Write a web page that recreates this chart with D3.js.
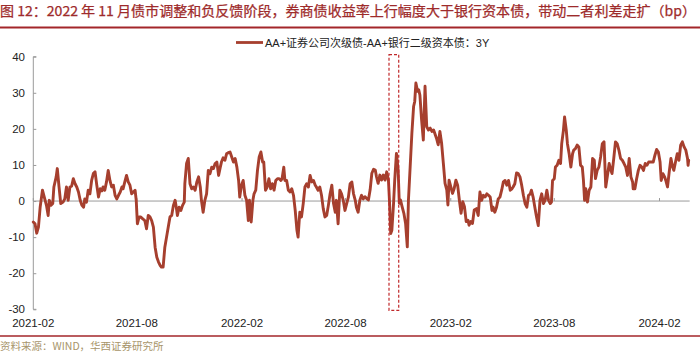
<!DOCTYPE html>
<html><head><meta charset="utf-8">
<script src="https://cdn.jsdelivr.net/npm/d3@7"></script>
<style>html,body{margin:0;padding:0;background:#fff;}svg{display:block;}</style>
</head><body>
<svg id="c" width="700" height="357"></svg>
<script>
const titleText = "图 12：2022 年 11 月债市调整和负反馈阶段，券商债收益率上行幅度大于银行资本债，带动二者利差走扩（bp）";
const legendLabel = "AA+证券公司次级债-AA+银行二级资本债：3Y";
const sourceText = "资料来源：WIND，华西证券研究所";
const yTicks = [40, 30, 20, 10, 0, -10, -20, -30];
const xTickLabels = ["2021-02","2021-08","2022-02","2022-08","2023-02","2023-08","2024-02"];
const highlightDates = ["2022-10-16","2022-11-02"];
const highlightValues = [40.6, -30.3];

const dates = [
"2021-02-01","2021-02-04","2021-02-07","2021-02-10","2021-02-13","2021-02-17","2021-02-21","2021-02-24","2021-02-27",
"2021-03-01","2021-03-04","2021-03-07","2021-03-09","2021-03-13","2021-03-15","2021-03-18","2021-03-21","2021-03-25","2021-03-28","2021-03-31",
"2021-04-03","2021-04-06","2021-04-09","2021-04-12","2021-04-15","2021-04-18","2021-04-21","2021-04-24","2021-04-27","2021-04-30",
"2021-05-02","2021-05-05","2021-05-08","2021-05-11","2021-05-14","2021-05-17","2021-05-20","2021-05-23","2021-05-26","2021-05-29",
"2021-06-01","2021-06-03","2021-06-06","2021-06-09","2021-06-12","2021-06-15","2021-06-18","2021-06-21","2021-06-24","2021-06-27","2021-06-30",
"2021-07-03","2021-07-06","2021-07-08","2021-07-11","2021-07-14","2021-07-17","2021-07-20","2021-07-23","2021-07-26","2021-07-29","2021-07-31",
"2021-08-02","2021-08-05","2021-08-08","2021-08-11","2021-08-15","2021-08-18","2021-08-21","2021-08-24","2021-08-27","2021-08-30",
"2021-09-02","2021-09-05","2021-09-08","2021-09-11","2021-09-13","2021-09-16","2021-09-19","2021-09-22","2021-09-25","2021-09-28",
"2021-10-01","2021-10-04","2021-10-07","2021-10-09","2021-10-11","2021-10-14","2021-10-17","2021-10-20","2021-10-23","2021-10-24","2021-10-27","2021-10-30",
"2021-11-02","2021-11-05","2021-11-08","2021-11-11","2021-11-14","2021-11-17","2021-11-20","2021-11-22","2021-11-25","2021-11-28",
"2021-12-01","2021-12-04","2021-12-07","2021-12-10","2021-12-13","2021-12-16","2021-12-19","2021-12-22","2021-12-25","2021-12-27","2021-12-30",
"2022-01-02","2022-01-05","2022-01-08","2022-01-11","2022-01-14","2022-01-17","2022-01-20","2022-01-23","2022-01-26","2022-01-28","2022-01-31",
"2022-02-03","2022-02-06","2022-02-09","2022-02-12","2022-02-14","2022-02-17","2022-02-20","2022-02-22","2022-02-25","2022-02-28",
"2022-03-03","2022-03-06","2022-03-09","2022-03-11","2022-03-14","2022-03-17","2022-03-20","2022-03-23","2022-03-26","2022-03-29",
"2022-04-01","2022-04-04","2022-04-07","2022-04-10","2022-04-12","2022-04-15","2022-04-17","2022-04-20","2022-04-23","2022-04-26","2022-04-29",
"2022-05-02","2022-05-05","2022-05-08","2022-05-10","2022-05-13","2022-05-16","2022-05-19","2022-05-22","2022-05-25","2022-05-28","2022-05-31",
"2022-06-03","2022-06-06","2022-06-09","2022-06-11","2022-06-14","2022-06-17","2022-06-20","2022-06-23","2022-06-26","2022-06-29",
"2022-07-02","2022-07-05","2022-07-08","2022-07-11","2022-07-14","2022-07-16","2022-07-19","2022-07-22","2022-07-25","2022-07-28","2022-07-31",
"2022-08-03","2022-08-06","2022-08-09","2022-08-12","2022-08-15","2022-08-18","2022-08-20","2022-08-23","2022-08-26","2022-08-29",
"2022-09-01","2022-09-04","2022-09-07","2022-09-10","2022-09-13","2022-09-16","2022-09-19","2022-09-22","2022-09-24","2022-09-27","2022-09-30",
"2022-10-03","2022-10-06","2022-10-09","2022-10-12","2022-10-15","2022-10-17","2022-10-19","2022-10-21","2022-10-24","2022-10-26","2022-10-29",
"2022-11-01","2022-11-03","2022-11-05","2022-11-08","2022-11-11","2022-11-14","2022-11-17","2022-11-19","2022-11-22","2022-11-25","2022-11-28","2022-11-30",
"2022-12-02","2022-12-05","2022-12-07","2022-12-09","2022-12-12","2022-12-15","2022-12-18","2022-12-21","2022-12-24","2022-12-27","2022-12-30",
"2023-01-02","2023-01-04","2023-01-07","2023-01-10","2023-01-13","2023-01-16","2023-01-19","2023-01-22","2023-01-25","2023-01-27","2023-01-29",
"2023-02-01","2023-02-04","2023-02-07","2023-02-10","2023-02-13","2023-02-16","2023-02-19","2023-02-22","2023-02-25","2023-02-28",
"2023-03-03","2023-03-05","2023-03-08","2023-03-11","2023-03-14","2023-03-18","2023-03-21","2023-03-24","2023-03-27","2023-03-30",
"2023-04-02","2023-04-05","2023-04-08","2023-04-11","2023-04-14","2023-04-16","2023-04-19","2023-04-22","2023-04-25","2023-04-28",
"2023-05-01","2023-05-04","2023-05-07","2023-05-10","2023-05-13","2023-05-16","2023-05-19","2023-05-21","2023-05-24","2023-05-27","2023-05-30",
"2023-06-02","2023-06-05","2023-06-08","2023-06-11","2023-06-14","2023-06-17","2023-06-20","2023-06-22","2023-06-25","2023-06-28",
"2023-07-01","2023-07-04","2023-07-07","2023-07-10","2023-07-13","2023-07-16","2023-07-19","2023-07-22","2023-07-25","2023-07-27","2023-07-29",
"2023-08-01","2023-08-03","2023-08-06","2023-08-09","2023-08-12","2023-08-14","2023-08-17","2023-08-19","2023-08-22","2023-08-24","2023-08-27","2023-08-30",
"2023-09-02","2023-09-04","2023-09-07","2023-09-10","2023-09-13","2023-09-16","2023-09-19","2023-09-21","2023-09-23","2023-09-25","2023-09-28",
"2023-10-01","2023-10-04","2023-10-07","2023-10-10","2023-10-12","2023-10-15","2023-10-18","2023-10-21","2023-10-24","2023-10-27","2023-10-30",
"2023-11-02","2023-11-05","2023-11-08","2023-11-10","2023-11-13","2023-11-16","2023-11-19","2023-11-22","2023-11-25","2023-11-28",
"2023-12-01","2023-12-04","2023-12-07","2023-12-10","2023-12-13","2023-12-16","2023-12-17","2023-12-20","2023-12-23","2023-12-26","2023-12-29",
"2024-01-01","2024-01-04","2024-01-07","2024-01-10","2024-01-13","2024-01-15","2024-01-18","2024-01-21","2024-01-24","2024-01-27","2024-01-30",
"2024-02-02","2024-02-04","2024-02-07","2024-02-10","2024-02-12","2024-02-15","2024-02-18","2024-02-21","2024-02-24","2024-02-26","2024-02-29",
"2024-03-03","2024-03-06","2024-03-09","2024-03-12","2024-03-15","2024-03-18","2024-03-21","2024-03-22","2024-03-23"
];

const values = [
-5.8,-6.3,-8.9,-7.2,-1.7,3.0,0.6,-1.2,-4.0,
0.2,-1.2,-0.7,3.9,6.7,9.0,3.9,-0.7,-0.3,0.6,3.9,
0.2,3.9,4.1,6.2,4.8,3.9,2.5,0.2,-1.2,-1.7,
0.6,-0.3,3.0,2.0,5.7,7.6,8.1,4.4,1.1,3.4,
2.8,3.9,3.0,5.3,8.5,5.7,3.9,4.4,1.6,0.6,1.6,
2.5,3.9,3.4,5.3,7.1,5.3,4.4,2.0,2.5,3.0,0.2,
-6.3,-4.4,-4.4,-4.9,-5.4,-7.7,-4.0,-4.4,-5.4,-7.2,
-12.8,-15.6,-16.9,-17.9,-18.3,-18.3,-12.8,-10.0,-7.2,-4.4,
-4.0,-1.2,0.2,-1.7,-4.0,-1.7,-2.6,-1.2,-0.3,4.8,10.4,11.8,
4.8,3.4,3.9,3.0,5.3,6.7,3.9,0.2,-3.1,0.2,
2.0,8.5,7.6,9.4,9.0,10.4,10.8,7.1,9.4,10.8,12.0,
11.3,13.1,13.4,13.6,12.2,10.8,11.8,9.4,5.7,1.1,4.4,
5.7,1.6,0.2,-5.4,0.2,-5.8,0.2,2.0,3.0,8.5,
12.2,13.6,10.8,10.8,3.0,3.9,6.2,3.4,4.8,3.0,
5.7,6.2,6.2,5.7,6.2,9.4,5.7,5.7,3.0,2.5,3.4,
1.6,-2.6,-8.1,-10.0,-3.1,-4.4,-0.7,3.9,4.8,3.9,7.1,
5.3,5.7,4.4,3.9,3.0,3.9,1.6,-2.1,-4.4,-4.0,
-1.2,2.0,4.4,-0.7,-3.1,0.2,-6.3,3.0,2.0,0.2,-2.6,
-0.7,1.1,4.8,5.3,2.0,0.2,-1.7,-3.1,0.2,1.6,
0.6,1.2,0.7,0.3,3.1,7.7,8.8,8.6,6.8,4.9,7.2,
5.8,7.2,5.8,8.1,5.8,-0.6,-9.0,-8.1,-0.6,5.8,13.2,
8.6,-0.6,0.3,-1.6,-3.4,-6.2,-12.7,0.3,9.5,18.8,26.2,27.6,
32.7,30.4,30.8,29.4,22.5,16.9,31.8,20.6,19.7,20.2,19.3,
19.7,18.8,17.4,15.6,19.3,16.0,10.5,4.9,3.1,-1.1,5.8,
4.0,2.1,3.5,5.8,4.4,0.3,-3.4,-0.2,-1.6,-5.7,
-5.3,-6.7,-5.7,-6.2,-2.5,-2.1,-4.0,2.5,0.2,1.6,
1.1,2.0,1.6,1.1,-2.6,-1.7,-3.1,-1.7,0.6,1.1,
3.0,5.3,5.7,4.4,5.7,3.0,3.4,3.9,4.8,7.8,7.6,
6.7,4.4,1.6,-0.7,-1.7,1.6,2.0,3.0,1.1,-1.7,
-4.4,-6.8,0.2,2.0,-0.7,0.2,3.0,0.2,-0.7,-0.3,5.7,
6.2,9.4,9.9,11.3,10.4,15.9,19.6,23.3,19.6,15.9,13.1,9.4,
13.1,14.1,14.5,15.5,15.0,9.9,9.4,5.7,0.2,3.4,-0.3,
3.0,3.9,11.8,11.3,6.2,8.5,9.4,12.2,15.9,16.4,3.9,
7.1,10.4,8.5,7.6,11.8,16.4,15.9,14.1,11.8,11.3,
10.4,9.4,7.1,11.8,6.7,5.3,3.4,3.4,6.2,8.5,9.9,
9.4,8.5,10.4,9.9,10.8,10.8,10.8,10.8,12.7,14.3,13.6,
10.8,5.7,7.6,6.7,5.7,3.9,8.1,11.8,9.4,8.5,10.8,
13.1,11.3,15.5,16.4,15.0,14.1,11.8,9.9,11.3
];

const parse = d3.utcParse("%Y-%m-%d");
const parseM = d3.utcParse("%Y-%m");
const n = Math.min(dates.length, values.length);
if (dates.length !== values.length) console.warn("length mismatch", dates.length, values.length);
const data = d3.range(n).map(i => ({d: parse(dates[i]), v: values[i]}));

const svg = d3.select("#c");
const red = "#A63F2E";

const x = d3.scaleUtc().domain([parseM("2021-02"), parseM("2024-02")]).range([33.3, 659.5]);
const y = d3.scaleLinear().domain([-30, 40]).range([309.3, 56.7]);

// title
svg.append("text").attr("x", 0).attr("y", 16)
  .attr("font-family", "'Noto Sans CJK SC', sans-serif").attr("font-size", 13.5)
  .attr("fill", "#9E2B2B").attr("stroke", "#9E2B2B").attr("stroke-width", 0.25)
  .attr("textLength", 696).attr("lengthAdjust", "spacingAndGlyphs")
  .text(titleText);
svg.append("line").attr("x1", 0).attr("x2", 700).attr("y1", 27.5).attr("y2", 27.5)
  .attr("stroke", "#A3262A").attr("stroke-width", 2);

// legend
svg.append("line").attr("x1", 236).attr("x2", 263).attr("y1", 42.5).attr("y2", 42.5)
  .attr("stroke", red).attr("stroke-width", 2.8);
svg.append("text").attr("x", 265).attr("y", 46.5)
  .attr("font-family", "'Liberation Sans', 'Noto Sans CJK SC', sans-serif").attr("font-size", 11)
  .attr("fill", "#222").text(legendLabel);

// y axis
const yAxis = d3.axisRight(y).tickValues(yTicks).tickSize(3).tickFormat("");
const gy = svg.append("g").attr("transform", "translate(33.3,0)").call(yAxis);
gy.select(".domain").attr("stroke", "#9a9a9a").attr("d", `M3,${y(40)}H0V${y(-30)}H3`);
gy.selectAll(".tick line").attr("stroke", "#9a9a9a");
svg.append("g").selectAll("text").data(yTicks).join("text")
  .attr("x", 25).attr("y", d => y(d)).attr("dy", "0.35em").attr("text-anchor", "end")
  .attr("font-family", "'Liberation Sans', Arial, sans-serif").attr("font-size", 11.5)
  .attr("fill", "#222").text(d => d);

// zero baseline with small ticks
const last = data[data.length - 1].d;
svg.append("line").attr("x1", x.range()[0]).attr("x2", x(last) + 1)
  .attr("y1", y(0)).attr("y2", y(0)).attr("stroke", "#9a9a9a").attr("stroke-width", 1);
svg.append("g").selectAll("line").data(xTickLabels).join("line")
  .attr("x1", d => x(parseM(d))).attr("x2", d => x(parseM(d)))
  .attr("y1", y(0)).attr("y2", y(0) - 3).attr("stroke", "#9a9a9a");

// x labels
svg.append("g").selectAll("text").data(xTickLabels).join("text")
  .attr("x", d => x(parseM(d))).attr("y", 327).attr("text-anchor", "middle")
  .attr("font-family", "'Liberation Sans', Arial, sans-serif").attr("font-size", 11.5)
  .attr("fill", "#222").text(d => d);

// line
svg.append("path").datum(data)
  .attr("fill", "none").attr("stroke", red).attr("stroke-width", 2.9)
  .attr("stroke-linejoin", "round").attr("stroke-linecap", "round")
  .attr("d", d3.line().x(d => x(d.d)).y(d => y(d.v)));

// highlight box
const hx0 = x(parse(highlightDates[0])), hx1 = x(parse(highlightDates[1]));
const hy0 = y(highlightValues[0]), hy1 = y(highlightValues[1]);
svg.append("rect").attr("x", hx0).attr("y", hy0).attr("width", hx1 - hx0).attr("height", hy1 - hy0)
  .attr("fill", "none").attr("stroke", "#C0282A").attr("stroke-width", 1.2)
  .attr("stroke-dasharray", "3,2");

// footer
svg.append("line").attr("x1", 0).attr("x2", 700).attr("y1", 336).attr("y2", 336)
  .attr("stroke", "#A3262A").attr("stroke-width", 1.5);
svg.append("text").attr("x", 0).attr("y", 350)
  .attr("font-family", "'Noto Sans CJK SC', sans-serif").attr("font-size", 10.5)
  .attr("fill", "#A8956A").text(sourceText);
</script>
</body></html>
